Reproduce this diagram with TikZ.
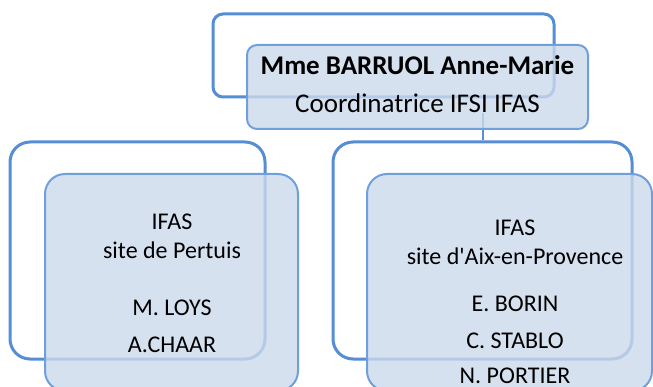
\documentclass[tikz,border=0pt]{standalone}
\usepackage{fontspec}
\setmainfont{Carlito}[Ligatures=TeXOff]
\definecolor{frameblue}{HTML}{558ED5}
\definecolor{boxline}{HTML}{6FA0DC}
\definecolor{boxfill}{HTML}{CCD9EB}
\tikzset{
  backframe/.style={draw=frameblue, line width=3pt, rounded corners=#1, inner sep=0pt, fill=none},
  frontbox/.style={draw=boxline, line width=2pt, rounded corners=#1, fill=boxfill, fill opacity=0.8, draw opacity=1, text opacity=1, inner sep=0pt},
  link/.style={draw=frameblue, line width=2pt},
  toptxt/.style={font=\fontsize{27}{31}\selectfont, anchor=base, inner sep=0pt},
  lowtxt/.style={font=\fontsize{24}{28}\selectfont, anchor=base, inner sep=0pt},
}
\begin{document}
\begin{tikzpicture}[x=1pt,y=-1pt]
\useasboundingbox (0,0) rectangle (653,387);
\begin{scope}
\clip (0,0) rectangle (653,387);
% top
\node[backframe=10pt, minimum width=341pt, minimum height=83pt] (tback) at (383.5,55.5) {};
\coordinate (c1) at (483,113);
\node[backframe=20pt, minimum width=299pt, minimum height=217pt] (rback) at (482.5,250.5) {};
\draw[link] (c1) -- (c1 |- rback.north);
\node[frontbox=10pt, minimum width=341pt, minimum height=84pt] (tfront) at (417.5,87) {};
% left
\node[backframe=20pt, minimum width=255pt, minimum height=217pt] (lback) at (137.5,250.5) {};
\node[frontbox=20pt, minimum width=253pt, minimum height=217pt] (lfront) at (171.5,282.5) {};
% right
\node[frontbox=20pt, minimum width=285pt, minimum height=217pt] (rfront) at (509.5,282.5) {};
\end{scope}
% texts
\node[toptxt, font=\fontsize{27}{31}\selectfont\bfseries] (t1) at (417.5,75) {Mme BARRUOL Anne-Marie};
\node[toptxt] (t2) at (417.5,113) {Coordinatrice IFSI IFAS};
\node[lowtxt] (l1) at (172,230) {IFAS};
\node[lowtxt] (l2) at (172,259) {site de Pertuis};
\node[lowtxt] (l3) at (172,315) {M. LOYS};
\node[lowtxt] (l4) at (172,352) {A.CHAAR};
\node[lowtxt] (r1) at (515,236) {IFAS};
\node[lowtxt] (r2) at (515,265) {site d'Aix-en-Provence};
\node[lowtxt] (r3) at (515,311) {E. BORIN};
\node[lowtxt] (r4) at (515,348) {C. STABLO};
\node[lowtxt] (r5) at (515,383) {N. PORTIER};
\end{tikzpicture}
\end{document}
